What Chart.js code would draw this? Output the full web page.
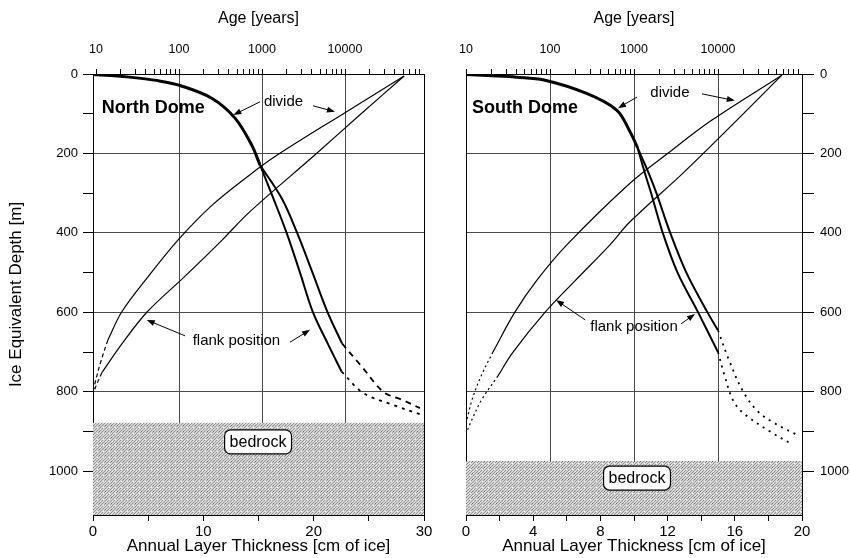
<!DOCTYPE html>
<html>
<head>
<meta charset="utf-8">
<script src="https://cdn.jsdelivr.net/npm/chart.js@4.4.0/dist/chart.umd.min.js"></script>
<style>
html, body { margin: 0; padding: 0; background: #fff; }
#wrap { position: relative; width: 850px; height: 558px; }
#north { position: absolute; left: 0; top: 0; }
#south { position: absolute; left: 445px; top: 0; }
</style>
</head>
<body>
<div id="wrap">
  <canvas id="north" width="445" height="558"></canvas>
  <canvas id="south" width="405" height="558"></canvas>
</div>
<script>
// ---- axes ----
const depthTicks = [0, 100, 200, 300, 400, 500, 600, 700, 800, 900, 1000];
const depthLabels = [0, 200, 400, 600, 800, 1000];
const depthGrid = [200, 400, 600, 800, 1000];
const ageTicks = [10, 20, 30, 40, 50, 60, 70, 80, 90,
  100, 200, 300, 400, 500, 600, 700, 800, 900,
  1000, 2000, 3000, 4000, 5000, 6000, 7000, 8000, 9000,
  10000, 20000, 30000, 40000, 50000, 60000, 70000, 80000, 90000];
const ageLabels = [10, 100, 1000, 10000];
const ageGrid = [100, 1000, 10000];
const northCmTicks = [0, 5, 10, 15, 20, 25, 30];
const northCmLabels = [0, 10, 20, 30];
const southCmTicks = [0, 2, 4, 6, 8, 10, 12, 14, 16, 18, 20];
const southCmLabels = [0, 4, 8, 12, 16, 20];

// ---- North Dome: layer thickness (cm of ice) vs depth (m) ----
const nDivLayerDepth = [5, 98, 204, 254, 330, 418, 510, 599, 670];
const nDivLayerCm = [28.2, 22.8, 16.7, 14.2, 10.8, 7.7, 5.0, 2.6, 1.34];
const nDivLayerDashDepth = [670, 720, 765, 800];
const nDivLayerDashCm = [1.34, 0.75, 0.3, 0];
const nFlkLayerDepth = [5, 100, 204, 347, 418, 510, 599, 680, 752];
const nFlkLayerCm = [28.2, 24.3, 20.1, 14.2, 11.7, 8.3, 4.9, 2.6, 0.8];
const nFlkLayerDashDepth = [752, 780, 805];
const nFlkLayerDashCm = [0.8, 0.35, 0];
// ---- North Dome: age (years) vs depth (m) ----
const nAgeTopDepth = [1, 5, 11, 18, 29, 61, 111, 179, 229];
const nAgeTop = [9.2, 18, 35, 60, 103, 248, 473, 752, 946];
const nDivAgeDepth = [229, 313, 400, 500, 598, 678];
const nDivAge = [946, 1727, 2650, 4060, 6120, 9200];
const nDivAgeDashDepth = [678, 737, 800, 820, 841];
const nDivAgeDash = [9200, 16000, 29000, 48600, 80000];
const nFlkAgeDepth = [229, 313, 400, 500, 598, 680, 749];
const nFlkAge = [946, 1370, 1980, 2870, 4080, 6240, 9100];
const nFlkAgeDashDepth = [749, 803, 833, 858];
const nFlkAgeDash = [9100, 16600, 38200, 84000];
const nBedrockTop = 878;

// ---- South Dome: layer thickness ----
const sDivLayerDepth = [3, 116, 200, 275, 430, 520, 600, 700];
const sDivLayerCm = [18.8, 14.64, 12.0, 9.76, 6.0, 4.2, 2.9, 1.6];
const sDivLayerDashDepth = [700, 760, 820, 880];
const sDivLayerDashCm = [1.6, 0.9, 0.36, 0];
const sFlkLayerDepth = [3, 116, 250, 372, 430, 520, 600, 700, 760];
const sFlkLayerCm = [18.8, 16.13, 12.9, 9.76, 8.57, 6.5, 4.7, 2.8, 1.9];
const sFlkLayerDashDepth = [760, 820, 870, 905];
const sFlkLayerDashCm = [1.9, 0.93, 0.35, 0];
// ---- South Dome: age ----
const sAgeTopDepth = [1, 4, 8, 15, 49, 91, 145, 185];
const sAgeTop = [10, 18, 40, 85, 273, 622, 895, 1100];
const sDivAgeDepth = [185, 250, 300, 400, 500, 600, 645];
const sDivAge = [1100, 1500, 1850, 2700, 4200, 7500, 10000];
const sDivAgeDashDepth = [645, 720, 800, 850, 880, 908];
const sDivAgeDash = [10000, 13500, 20000, 30000, 48000, 87000];
const sFlkAgeDepth = [185, 250, 300, 400, 500, 600, 700];
const sFlkAge = [1100, 1350, 1600, 2200, 3300, 5800, 10000];
const sFlkAgeDashDepth = [700, 760, 820, 853, 900, 933];
const sFlkAgeDash = [10000, 12000, 15000, 19900, 41700, 78200];
const sBedrockTop = 974;

const depthMax = 1110;
const FONT = "'Liberation Sans', Arial, Helvetica, sans-serif";
Chart.defaults.font.family = FONT;
Chart.defaults.color = '#000';

function pts(xs, depths) {
  return xs.map((v, i) => ({ x: v, y: depths[i] }));
}

function curve(axis, xs, depths, width, dash) {
  return {
    data: pts(xs, depths), xAxisID: axis, yAxisID: 'y',
    borderColor: '#000', borderWidth: width, borderDash: dash || [],
    pointRadius: 0, tension: 0.35, fill: false
  };
}

// stippled diagonal hatch for the bedrock
function hatch() {
  const c = document.createElement('canvas');
  c.width = 6; c.height = 6;
  const g = c.getContext('2d');
  g.fillStyle = '#d8d8d8';
  g.fillRect(0, 0, 6, 6);
  g.strokeStyle = '#8e8e8e';
  g.lineWidth = 1;
  g.beginPath();
  for (let k = -6; k <= 12; k += 3) { g.moveTo(k, 6); g.lineTo(k + 6, 0); }
  g.stroke();
  g.fillStyle = '#f4f4f4';
  g.fillRect(1, 1, 1, 1);
  g.fillRect(4, 3, 1, 1);
  g.fillStyle = '#666';
  g.fillRect(3, 5, 1, 1);
  return g.createPattern(c, 'repeat');
}

function bedrock(top, xMax) {
  return {
    data: [{ x: 0, y: top }, { x: xMax, y: top }], xAxisID: 'x', yAxisID: 'y',
    borderWidth: 0, pointRadius: 0, backgroundColor: hatch(),
    fill: { value: depthMax }
  };
}

function arrow(ctx, x1, y1, x2, y2) {
  const a = Math.atan2(y2 - y1, x2 - x1), L = 8, W = 3;
  ctx.beginPath();
  ctx.moveTo(x1, y1);
  ctx.lineTo(x2 - 5 * Math.cos(a), y2 - 5 * Math.sin(a));
  ctx.stroke();
  ctx.beginPath();
  ctx.moveTo(x2, y2);
  ctx.lineTo(x2 - L * Math.cos(a) + W * Math.sin(a), y2 - L * Math.sin(a) - W * Math.cos(a));
  ctx.lineTo(x2 - L * Math.cos(a) - W * Math.sin(a), y2 - L * Math.sin(a) + W * Math.cos(a));
  ctx.closePath();
  ctx.fill();
}

const notesPlugin = {
  id: 'notes',
  afterDatasetsDraw(chart, args, opts) {
    const { ctx } = chart;
    const sx = chart.scales.x, sy = chart.scales.y;
    ctx.save();
    ctx.fillStyle = '#000';
    ctx.strokeStyle = '#000';
    ctx.lineWidth = 1;
    (opts.arrows || []).forEach(a => {
      arrow(ctx, sx.getPixelForValue(a[0]), sy.getPixelForValue(a[1]),
        sx.getPixelForValue(a[2]), sy.getPixelForValue(a[3]));
    });
    ctx.textBaseline = 'middle';
    (opts.labels || []).forEach(l => {
      ctx.font = (l.bold ? 'bold 18px ' : '15px ') + FONT;
      ctx.textAlign = l.align || 'center';
      ctx.fillText(l.text, sx.getPixelForValue(l.x), sy.getPixelForValue(l.y));
    });
    (opts.boxes || []).forEach(b => {
      ctx.font = '16px ' + FONT;
      const cx = sx.getPixelForValue(b.x), cy = sy.getPixelForValue(b.y);
      const w = ctx.measureText(b.text).width + 10, h = 24;
      ctx.beginPath();
      ctx.roundRect(cx - w / 2, cy - h / 2, w, h, 6);
      ctx.fillStyle = '#fff';
      ctx.fill();
      ctx.lineWidth = 1.2;
      ctx.stroke();
      ctx.fillStyle = '#000';
      ctx.textAlign = 'center';
      ctx.fillText(b.text, cx, cy + 1);
    });
    ctx.restore();
  }
};

function makePanel(id, p) {
  const onGrid = list => c => (c.tick && list.includes(c.tick.value)) ? '#4a4a4a' : 'rgba(0,0,0,0)';
  const scales = {
    x: {
      type: 'linear', position: 'bottom', min: 0, max: p.xMax,
      afterBuildTicks: s => { s.ticks = p.xTicks.map(v => ({ value: v })); },
      ticks: { autoSkip: false, maxRotation: 0, padding: 2, font: { size: 15 },
        callback: v => p.xLabels.includes(v) ? String(v) : '' },
      grid: { drawOnChartArea: false, tickLength: 6, tickColor: '#000' },
      border: { color: '#000', width: 1 },
      title: { display: true, text: 'Annual Layer Thickness [cm of ice]', font: { size: 17 },
        padding: { top: 0, bottom: 1 } },
      afterFit: s => { s.height = 43; }
    },
    xTop: {
      type: 'logarithmic', position: 'top', min: p.ageMin, max: p.ageMax,
      afterBuildTicks: s => { s.ticks = ageTicks.filter(v => v >= p.ageMin && v < p.ageMax).map(v => ({ value: v })); },
      ticks: { autoSkip: false, maxRotation: 0, padding: 12, font: { size: 12.5 },
        callback: v => ageLabels.includes(v) ? String(v) : '' },
      grid: { tickLength: 5, tickColor: '#000', color: onGrid(ageGrid) },
      border: { color: '#000', width: 1 },
      title: { display: true, text: 'Age [years]', font: { size: 16 }, padding: { top: 9, bottom: 0 } },
      afterFit: s => { s.height = 74; }
    },
    y: {
      type: 'linear', position: p.yPos, reverse: true, min: 0, max: depthMax,
      afterBuildTicks: s => { s.ticks = depthTicks.map(v => ({ value: v })); },
      ticks: { autoSkip: false, padding: p.yPos === 'left' ? 5 : 6, font: { size: 13 },
        callback: v => depthLabels.includes(v) ? String(v) : '' },
      grid: { tickLength: p.yPos === 'left' ? 10 : 12, tickColor: '#000', color: onGrid(depthGrid) },
      border: { color: '#000', width: 1 },
      title: { display: p.yPos === 'left', text: 'Ice Equivalent Depth [m]', font: { size: 17 },
        padding: { top: 6, bottom: 0 } },
      afterFit: s => { s.width = p.yWidth; }
    },
    yEdge: {
      type: 'linear', position: p.yPos === 'left' ? 'right' : 'left', display: true,
      ticks: { display: false }, grid: { display: false },
      border: { color: '#000', width: 1 },
      afterFit: s => { s.width = p.edgeWidth; }
    }
  };
  return new Chart(document.getElementById(id), {
    type: 'line',
    data: { datasets: p.datasets },
    options: {
      responsive: false, animation: false,
      layout: { padding: 0 },
      plugins: { legend: { display: false }, tooltip: { enabled: false }, notes: p.notes },
      scales: scales
    },
    plugins: [notesPlugin]
  });
}

makePanel('north', {
  xMax: 30, xTicks: northCmTicks, xLabels: northCmLabels,
  ageMin: 9.2, ageMax: 89500, yPos: 'left', yWidth: 93, edgeWidth: 21,
  datasets: [
    bedrock(nBedrockTop, 30),
    curve('x', nDivLayerCm, nDivLayerDepth, 1.2),
    curve('x', nDivLayerDashCm, nDivLayerDashDepth, 1.2, [4, 3]),
    curve('x', nFlkLayerCm, nFlkLayerDepth, 1.2),
    curve('x', nFlkLayerDashCm, nFlkLayerDashDepth, 1.2, [4, 3]),
    curve('xTop', nAgeTop, nAgeTopDepth, 3),
    curve('xTop', nDivAge, nDivAgeDepth, 2),
    curve('xTop', nDivAgeDash, nDivAgeDashDepth, 1.8, [6, 5]),
    curve('xTop', nFlkAge, nFlkAgeDepth, 2),
    curve('xTop', nFlkAgeDash, nFlkAgeDashDepth, 1.8, [3, 5])
  ],
  notes: {
    labels: [
      { text: 'North Dome', x: 0.79, y: 86, bold: true, align: 'left' },
      { text: 'divide', x: 17.27, y: 70 },
      { text: 'flank position', x: 13.0, y: 672 }
    ],
    arrows: [[15.14, 70, 12.72, 103], [19.94, 80, 21.93, 95],
      [8.34, 659, 4.87, 619], [17.86, 675, 19.67, 644]],
    boxes: [{ text: 'bedrock', x: 14.96, y: 926 }]
  }
});

makePanel('south', {
  xMax: 20, xTicks: southCmTicks, xLabels: southCmLabels,
  ageMin: 10, ageMax: 100000, yPos: 'right', yWidth: 48, edgeWidth: 21,
  datasets: [
    bedrock(sBedrockTop, 20),
    curve('x', sDivLayerCm, sDivLayerDepth, 1.2),
    curve('x', sDivLayerDashCm, sDivLayerDashDepth, 1.2, [2, 3]),
    curve('x', sFlkLayerCm, sFlkLayerDepth, 1.2),
    curve('x', sFlkLayerDashCm, sFlkLayerDashDepth, 1.2, [2, 3]),
    curve('xTop', sAgeTop, sAgeTopDepth, 3),
    curve('xTop', sDivAge, sDivAgeDepth, 2),
    curve('xTop', sDivAgeDash, sDivAgeDashDepth, 1.8, [2, 5]),
    curve('xTop', sFlkAge, sFlkAgeDepth, 2),
    curve('xTop', sFlkAgeDash, sFlkAgeDashDepth, 1.8, [2, 5])
  ],
  notes: {
    labels: [
      { text: 'South Dome', x: 0.36, y: 86, bold: true, align: 'left' },
      { text: 'divide', x: 12.14, y: 48 },
      { text: 'flank position', x: 10.0, y: 637 }
    ],
    arrows: [[10.18, 58, 9.05, 86], [14.05, 50, 16.0, 67],
      [7.1, 619, 5.36, 569], [12.8, 629, 13.63, 604]],
    boxes: [{ text: 'bedrock', x: 10.18, y: 1017 }]
  }
});
</script>
</body>
</html>
